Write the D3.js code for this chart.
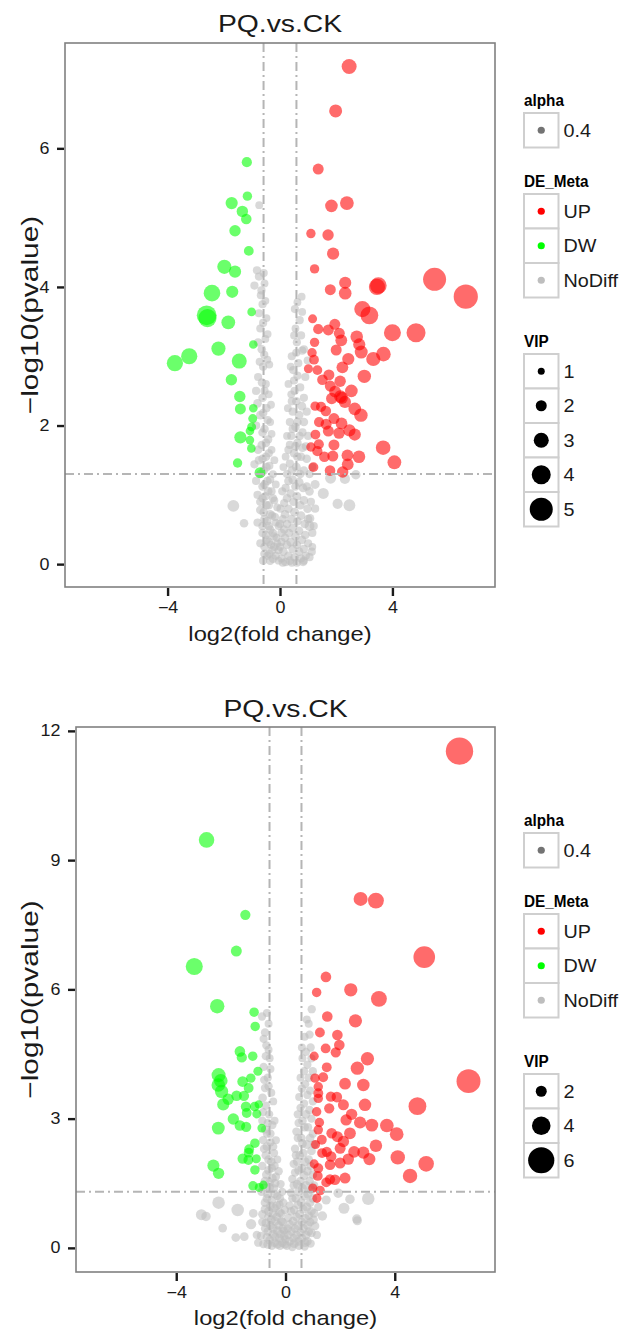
<!DOCTYPE html>
<html>
<head>
<meta charset="utf-8">
<script src="https://cdn.jsdelivr.net/npm/d3@7"></script>
<style>
  body { margin: 0; background: #fff; }
  svg { display: block; }
  text { font-family: "Liberation Sans", Arial, Helvetica, sans-serif; }
</style>
</head>
<body>
<div id="chart"></div>
<script>
// ---- data: [log2FC, -log10(p), VIP] ----
const topUp = [
  [2.46,7.18,3.0],[1.98,6.54,2.5],[1.36,5.70,2.0],[1.83,5.17,2.4],[2.38,5.21,2.7],[1.10,4.77,1.6],
  [1.71,4.75,2.1],[1.89,4.48,2.3],[1.23,4.26,1.6],[2.32,4.06,2.3],[1.79,3.96,2.0],[2.32,3.91,2.4],
  [3.50,4.02,3.4],[3.45,4.00,3.3],[5.50,4.11,5.0],[6.61,3.86,5.3],[2.93,3.68,3.3],[3.18,3.59,3.7],
  [4.00,3.34,3.5],[4.84,3.34,4.0],[1.16,3.54,1.5],[1.36,3.39,1.8],[1.72,3.38,2.0],[1.95,3.46,2.0],
  [2.11,3.33,2.0],[2.18,3.23,2.2],[2.73,3.28,2.4],[2.82,3.17,2.3],[2.89,3.06,2.5],[3.68,3.03,2.9],
  [3.32,2.96,2.8],[1.23,3.20,1.6],[2.00,3.09,2.0],[1.14,3.05,1.6],[2.43,2.96,2.3],[1.21,2.95,1.7],
  [2.22,2.84,2.2],[1.01,2.82,1.5],[1.33,2.80,1.7],[3.00,2.71,2.6],[1.51,2.66,1.9],[1.74,2.73,2.0],
  [2.14,2.64,2.1],[1.79,2.57,2.0],[2.54,2.50,2.4],[1.96,2.49,2.2],[2.15,2.42,2.4],[2.20,2.40,2.3],
  [1.84,2.39,2.1],[2.31,2.34,2.3],[1.25,2.28,1.6],[1.46,2.27,1.8],[2.66,2.24,2.4],[2.88,2.15,2.6],
  [1.63,2.21,1.9],[1.39,2.05,1.8],[1.64,2.02,2.0],[1.92,2.10,2.0],[2.19,2.03,2.2],[2.47,1.93,2.3],
  [2.66,1.87,2.3],[2.10,1.89,2.1],[1.72,1.92,2.0],[1.26,1.87,1.7],[1.10,1.69,1.6],[1.38,1.73,1.8],
  [1.33,1.63,1.8],[1.92,1.72,2.0],[1.58,1.55,1.9],[2.40,1.57,2.2],[2.81,1.55,2.4],[2.41,1.44,2.2],
  [1.88,1.56,2.0],[3.67,1.68,2.9],[4.07,1.47,2.7],[1.19,1.40,1.7],[1.78,1.35,1.9],[2.23,1.33,2.1]
];
const topDw = [
  [-1.18,5.80,1.8],[-1.16,5.31,1.6],[-1.72,5.21,2.3],[-1.34,5.09,2.1],[-1.20,4.98,1.9],[-1.60,4.81,2.1],
  [-1.11,4.52,1.7],[-1.98,4.29,2.8],[-1.60,4.22,2.3],[-2.42,3.91,3.4],[-1.70,3.93,2.3],[-2.61,3.59,4.2],
  [-2.58,3.55,3.8],[-1.84,3.49,2.7],[-1.01,3.64,1.4],[-0.95,3.17,1.4],[-2.19,3.11,2.8],[-3.23,3.00,3.3],
  [-3.74,2.90,3.3],[-1.45,2.93,3.0],[-1.73,2.66,2.1],[-1.43,2.42,2.1],[-1.41,2.24,2.0],[-0.95,2.25,1.4],
  [-0.97,2.10,1.5],[-1.01,1.98,1.5],[-1.07,1.92,1.4],[-1.41,1.83,2.3],[-1.07,1.79,1.4],[-1.02,1.67,1.4],
  [-1.51,1.46,1.6],[-0.71,1.32,2.0]
];
const topNo = [
  [-0.74,5.18,1.2],[-0.82,4.24,1.3],[-0.75,4.15,1.3],[-0.91,4.02,1.3],[-0.68,3.88,1.3],[-0.55,4.05,1.2],
  [-0.62,3.75,1.3],[-0.48,3.55,1.2],[-0.70,3.40,1.3],[-0.52,3.25,1.2],[-0.65,3.10,1.4],[-0.45,2.95,1.2],
  [-0.60,2.85,1.3],[-0.78,2.70,1.3],[-0.50,2.60,1.2],[-0.40,2.45,1.2],[-0.62,2.40,1.4],[-0.48,2.25,1.3],
  [-0.70,2.15,1.4],[-0.35,2.05,1.2],[-0.55,1.95,1.4],[-0.42,1.80,1.3],[-0.65,1.72,1.4],[-0.30,1.65,1.2],
  [-0.50,1.55,1.4],[-0.75,1.50,1.4],[-0.38,1.42,1.3],[-0.58,1.35,1.4],[-0.91,1.44,1.3],[-0.25,1.30,1.2],
  [-0.45,1.20,1.4],[-0.62,1.12,1.4],[-0.30,1.05,1.3],[-0.52,0.98,1.4],[-0.70,0.90,1.4],[-0.20,0.92,1.2],
  [-0.40,0.85,1.4],[-0.58,0.75,1.4],[-0.28,0.70,1.3],[-0.45,0.62,1.4],[-0.15,0.60,1.2],[-0.62,0.55,1.4],
  [-0.35,0.50,1.4],[-0.50,0.42,1.4],[-0.22,0.40,1.3],[-0.40,0.32,1.4],[-0.10,0.30,1.2],[-0.55,0.25,1.4],
  [-0.28,0.20,1.4],[-0.45,0.12,1.3],[-0.15,0.12,1.3],[-0.35,0.05,1.4],[-0.05,0.05,1.2],
  [-0.58,4.20,1.3],[-0.66,3.95,1.3],[-0.52,3.80,1.2],[-0.75,3.62,1.3],[-0.60,3.48,1.3],[-0.44,3.32,1.2],
  [-0.78,3.20,1.3],[-0.56,3.02,1.3],[-0.38,2.88,1.2],[-0.72,2.92,1.3],[-0.64,2.62,1.4],[-0.85,2.50,1.3],
  [-0.55,2.50,1.3],[-0.32,2.30,1.2],[-0.80,2.32,1.4],[-0.60,2.18,1.4],[-0.44,2.08,1.3],[-0.85,2.00,1.3],
  [-0.62,1.90,1.4],[-0.30,1.88,1.2],[-0.50,1.75,1.4],[-0.78,1.65,1.4],[-0.40,1.60,1.3],[-0.62,1.52,1.4],
  [-0.20,1.50,1.2],[-0.48,1.40,1.4],[-0.70,1.30,1.4],[-0.35,1.22,1.3],[-0.85,1.20,1.3],[-0.55,1.15,1.4],
  [-0.15,1.15,1.2],[-0.42,1.05,1.4],[-0.80,1.00,1.3],[-0.62,0.95,1.4],[-0.25,0.95,1.3],[-0.48,0.85,1.4],
  [-0.10,0.82,1.2],[-0.70,0.78,1.4],[-0.35,0.72,1.4],[-0.55,0.65,1.4],[-0.18,0.68,1.3],[-0.80,0.60,1.3],
  [-0.40,0.55,1.4],[-0.05,0.55,1.2],[-0.62,0.45,1.4],[-0.25,0.45,1.4],[-0.48,0.35,1.4],[-0.12,0.38,1.3],
  [-0.70,0.30,1.3],[-0.32,0.28,1.4],[-0.55,0.15,1.4],[-0.20,0.25,1.4],[-0.05,0.20,1.3],[-0.38,0.15,1.4],
  [-0.25,0.08,1.4],[-0.60,0.05,1.3],
  [0.77,3.86,1.2],[0.53,3.68,1.3],[0.79,3.64,1.2],[0.79,3.08,1.3],[0.47,2.80,1.3],[0.98,2.94,1.2],
  [0.55,3.40,1.2],[0.60,3.20,1.3],[0.42,3.00,1.3],[0.65,2.90,1.3],[0.50,2.65,1.3],[0.72,2.55,1.3],
  [0.40,2.45,1.2],[0.58,2.35,1.4],[0.85,2.40,1.3],[0.45,2.20,1.3],[0.68,2.15,1.4],[0.35,2.05,1.3],
  [0.55,1.98,1.4],[0.80,1.90,1.3],[0.40,1.85,1.3],[0.62,1.75,1.4],[0.92,1.70,1.3],[0.30,1.65,1.3],
  [0.50,1.60,1.4],[0.75,1.55,1.4],[0.35,1.45,1.3],[0.58,1.40,1.5],[0.85,1.35,1.4],[1.05,1.30,1.3],
  [0.25,1.30,1.3],[0.45,1.22,1.4],[0.68,1.18,1.5],[0.95,1.12,1.4],[0.20,1.10,1.3],[0.38,1.02,1.4],
  [0.60,0.98,1.5],[0.85,0.92,1.4],[1.10,0.90,1.3],[0.15,0.88,1.3],[0.30,0.80,1.4],[0.52,0.75,1.5],
  [0.75,0.70,1.4],[1.00,0.65,1.4],[0.10,0.65,1.3],[0.25,0.58,1.4],[0.45,0.52,1.5],[0.68,0.48,1.4],
  [0.90,0.42,1.4],[0.05,0.45,1.3],[0.18,0.38,1.4],[0.38,0.32,1.5],[0.60,0.28,1.4],[0.85,0.22,1.3],
  [0.00,0.25,1.3],[0.12,0.18,1.4],[0.30,0.12,1.4],[0.52,0.10,1.4],[0.75,0.08,1.3],[0.05,0.08,1.3],
  [0.20,0.03,1.4],[0.42,0.02,1.3],[1.15,0.25,1.2],[1.20,0.55,1.3],[1.07,0.66,1.4],[1.13,0.18,1.3],
  [0.82,0.03,1.3],
  [0.62,3.78,1.2],[0.70,3.52,1.3],[0.50,3.30,1.2],[0.75,3.30,1.3],[0.58,3.05,1.3],[0.85,3.10,1.3],
  [0.38,2.85,1.2],[0.62,2.72,1.3],[0.90,2.70,1.3],[0.30,2.60,1.2],[0.52,2.50,1.3],[0.78,2.28,1.4],
  [0.42,2.35,1.3],[0.95,2.20,1.3],[0.28,2.25,1.2],[0.62,2.05,1.4],[0.85,2.05,1.4],[0.45,1.95,1.3],
  [0.25,1.85,1.2],[0.70,1.85,1.4],[1.00,1.85,1.3],[0.55,1.70,1.4],[0.35,1.72,1.3],[0.80,1.68,1.4],
  [0.20,1.55,1.2],[0.62,1.55,1.4],[0.95,1.52,1.4],[0.42,1.35,1.4],[0.72,1.30,1.4],[1.15,1.40,1.3],
  [0.12,1.40,1.2],[0.30,1.20,1.4],[0.55,1.12,1.4],[0.82,1.10,1.4],[1.05,1.05,1.4],[0.08,1.05,1.3],
  [0.25,0.95,1.4],[0.48,0.90,1.4],[0.72,0.85,1.4],[0.98,0.80,1.4],[1.25,0.80,1.3],[0.02,0.80,1.3],
  [0.18,0.72,1.4],[0.40,0.65,1.4],[0.62,0.62,1.4],[0.88,0.58,1.4],[1.15,0.45,1.3],[0.00,0.58,1.3],
  [0.15,0.50,1.4],[0.32,0.45,1.4],[0.55,0.40,1.4],[0.78,0.35,1.4],[1.00,0.30,1.3],[0.05,0.32,1.3],
  [0.25,0.28,1.4],[0.45,0.22,1.4],[0.68,0.18,1.4],[0.92,0.12,1.3],[0.10,0.02,1.3],[0.35,0.05,1.4],
  [0.60,0.02,1.3],[0.85,0.05,1.3],[1.05,0.10,1.3],
  [1.80,1.24,2.0],[2.31,1.23,1.8],[2.70,1.29,1.6],[1.54,1.02,2.0],[2.05,0.87,1.8],[2.47,0.85,2.2],
  [-1.66,0.84,2.2],[-1.28,0.59,1.4],[1.25,1.15,1.5],[1.05,0.55,1.7]
];

const botUp = [
  [6.37,11.53,6.3],[2.75,8.10,2.8],[3.31,8.06,3.3],[5.08,6.75,4.8],[1.48,6.29,1.9],[1.14,5.93,1.6],
  [2.39,5.99,2.6],[3.42,5.78,3.3],[1.53,5.37,1.9],[2.56,5.27,2.6],[1.26,5.00,1.7],[1.90,4.94,1.9],
  [1.97,4.71,1.9],[1.47,4.63,1.7],[1.84,4.54,1.8],[1.05,4.45,1.5],[3.00,4.39,2.6],[2.63,4.17,2.6],
  [1.51,4.19,1.7],[6.70,3.87,5.4],[1.38,3.96,1.7],[1.08,3.94,1.6],[2.18,3.81,2.2],[2.85,3.78,2.4],
  [1.20,3.74,1.6],[1.20,3.59,1.7],[1.66,3.51,1.8],[1.88,3.50,1.9],[1.20,3.47,1.6],[2.12,3.32,2.0],
  [2.91,3.32,2.4],[1.60,3.24,1.8],[4.83,3.29,3.8],[1.14,3.16,1.6],[2.42,3.10,2.1],[2.22,2.97,2.1],
  [2.73,2.91,2.3],[3.16,2.85,2.5],[3.71,2.84,2.7],[4.07,2.64,2.7],[1.24,2.91,1.6],[1.20,2.74,1.6],
  [2.36,2.66,2.2],[1.69,2.66,1.9],[1.90,2.58,2.0],[1.33,2.51,1.7],[2.12,2.47,2.1],[3.31,2.37,2.4],
  [1.51,2.23,1.8],[2.51,2.23,2.2],[2.00,2.31,2.0],[2.85,2.21,2.3],[1.34,2.20,1.7],[1.67,2.12,1.9],
  [2.30,2.06,2.1],[3.07,2.06,2.3],[4.11,2.10,2.9],[5.15,1.95,3.2],[4.56,1.67,2.9],[2.00,1.97,2.0],
  [1.63,1.93,1.9],[1.20,1.85,1.7],[2.18,1.62,2.0],[1.63,1.59,1.8],[1.81,1.58,1.9],[1.18,1.67,1.7],
  [1.00,1.39,1.5],[1.27,1.33,1.6],[1.49,1.52,1.7],[1.10,2.40,1.5],[1.05,1.95,1.5],[1.15,1.15,1.5]
];
const botDw = [
  [-2.89,9.47,3.2],[-1.47,7.73,1.8],[-1.80,6.89,2.0],[-3.34,6.53,3.6],[-2.50,5.61,2.9],[-1.15,5.47,1.6],
  [-1.11,5.14,1.6],[-1.67,4.56,1.9],[-1.60,4.42,1.8],[-1.20,4.45,1.6],[-1.01,4.10,1.5],[-2.45,4.01,2.8],
  [-2.37,3.88,2.7],[-2.46,3.78,2.7],[-2.34,3.63,2.6],[-1.57,3.86,1.9],[-1.27,3.94,1.6],[-1.35,3.71,1.7],
  [-1.79,3.53,1.9],[-1.52,3.53,1.8],[-2.10,3.45,2.1],[-2.28,3.33,2.3],[-1.45,3.28,1.8],[-1.13,3.28,1.6],
  [-0.98,3.33,1.3],[-1.42,3.13,1.7],[-1.05,3.11,1.5],[-1.91,2.99,2.1],[-2.46,2.78,2.5],[-1.67,2.84,1.9],
  [-1.44,2.81,1.8],[-0.87,2.78,1.4],[-1.12,2.43,1.6],[-1.33,2.29,1.7],[-1.35,2.21,1.7],[-1.57,2.07,1.8],
  [-1.36,2.04,1.7],[-1.07,2.07,1.5],[-2.64,1.91,2.3],[-2.45,1.73,2.1],[-1.12,1.81,1.6],[-1.19,1.44,1.6],
  [-0.96,1.40,1.5],[-0.81,1.46,1.4]
];
const botNo = [
  [-0.86,5.37,1.3],[-0.75,5.00,1.3],[-0.75,3.71,1.3],[-0.84,3.48,1.4],[-0.62,5.20,1.2],[-0.70,4.70,1.3],
  [-0.58,4.40,1.2],[-0.80,4.20,1.3],[-0.65,3.95,1.3],[-0.52,3.60,1.2],[-0.72,3.30,1.3],[-0.60,3.10,1.3],
  [-0.85,2.95,1.3],[-0.48,2.85,1.3],[-0.68,2.65,1.3],[-0.55,2.45,1.3],[-0.78,2.30,1.4],[-0.42,2.20,1.3],
  [-0.62,2.05,1.4],[-0.85,1.90,1.3],[-0.50,1.85,1.3],[-0.70,1.70,1.4],[-0.35,1.65,1.3],[-0.58,1.52,1.4],
  [-0.80,1.40,1.3],[-0.42,1.38,1.3],[-0.65,1.25,1.5],[-0.30,1.20,1.3],[-0.50,1.10,1.4],[-0.75,1.05,1.4],
  [-0.22,1.00,1.3],[-0.40,0.92,1.4],[-0.62,0.85,1.5],[-0.85,0.78,1.3],[-0.15,0.80,1.3],[-0.32,0.72,1.4],
  [-0.52,0.65,1.5],[-0.72,0.58,1.4],[-0.10,0.60,1.3],[-0.25,0.52,1.4],[-0.45,0.45,1.5],[-0.65,0.38,1.4],
  [-0.05,0.40,1.3],[-0.18,0.32,1.4],[-0.38,0.25,1.5],[-0.58,0.18,1.4],[0.00,0.20,1.3],[-0.12,0.12,1.4],
  [-0.30,0.08,1.4],[-0.50,0.05,1.3],[-1.00,0.12,1.3],[-0.81,0.09,1.3],[-1.05,0.30,1.3],
  [-0.68,5.45,1.2],[-0.80,4.85,1.3],[-0.62,4.60,1.2],[-0.72,4.45,1.3],[-0.55,4.15,1.2],[-0.78,3.90,1.3],
  [-0.62,3.75,1.3],[-0.45,3.40,1.2],[-0.82,3.15,1.3],[-0.65,2.90,1.3],[-0.40,2.95,1.2],[-0.75,2.75,1.3],
  [-0.55,2.65,1.3],[-0.35,2.50,1.2],[-0.82,2.50,1.3],[-0.68,2.35,1.4],[-0.45,2.35,1.3],[-0.30,2.05,1.2],
  [-0.72,2.15,1.4],[-0.52,2.00,1.4],[-0.40,1.90,1.3],[-0.62,1.80,1.4],[-0.25,1.78,1.3],[-0.48,1.62,1.4],
  [-0.75,1.55,1.4],[-0.18,1.48,1.3],[-0.38,1.50,1.4],[-0.58,1.40,1.4],[-0.88,1.30,1.3],[-0.12,1.30,1.3],
  [-0.40,1.25,1.4],[-0.68,1.15,1.4],[-0.20,1.15,1.3],[-0.55,0.98,1.4],[-0.08,1.05,1.3],[-0.32,0.98,1.4],
  [-0.75,0.90,1.4],[-0.45,0.80,1.4],[-0.02,0.88,1.3],[-0.22,0.82,1.4],[-0.62,0.72,1.4],[-0.38,0.62,1.4],
  [-0.85,0.60,1.3],[-0.15,0.62,1.4],[-0.55,0.52,1.4],[-0.30,0.40,1.4],[-0.75,0.45,1.3],[-0.10,0.45,1.4],
  [-0.45,0.32,1.4],[-0.68,0.25,1.4],[-0.22,0.22,1.4],[-0.05,0.28,1.4],[-0.40,0.12,1.4],[-0.90,0.28,1.3],
  [-0.65,0.08,1.4],[-0.20,0.05,1.4],[-0.02,0.08,1.3],
  [0.96,5.54,1.3],[0.85,5.20,1.2],[0.70,4.90,1.2],[0.92,4.65,1.3],[0.62,4.40,1.2],[0.80,4.25,1.3],
  [1.00,4.10,1.3],[0.55,3.95,1.2],[0.72,3.80,1.3],[0.90,3.65,1.3],[0.50,3.50,1.2],[0.68,3.35,1.3],
  [0.88,3.20,1.4],[0.45,3.10,1.3],[0.62,2.95,1.4],[0.82,2.80,1.4],[1.00,2.65,1.3],[0.40,2.70,1.3],
  [0.58,2.55,1.4],[0.78,2.40,1.5],[0.95,2.25,1.4],[0.35,2.30,1.3],[0.52,2.15,1.4],[0.72,2.00,1.5],
  [0.92,1.90,1.4],[0.30,1.95,1.3],[0.48,1.80,1.4],[0.68,1.68,1.5],[0.88,1.55,1.4],[1.05,1.45,1.3],
  [0.25,1.60,1.3],[0.42,1.48,1.4],[0.62,1.38,1.5],[0.82,1.25,1.5],[1.00,1.15,1.4],[0.20,1.28,1.3],
  [0.38,1.15,1.4],[0.58,1.05,1.5],[0.78,0.95,1.5],[0.95,0.85,1.4],[0.15,0.98,1.3],[0.32,0.88,1.4],
  [0.52,0.78,1.5],[0.72,0.68,1.5],[0.90,0.60,1.4],[0.10,0.70,1.3],[0.28,0.62,1.4],[0.45,0.52,1.5],
  [0.65,0.45,1.5],[0.85,0.38,1.4],[0.08,0.45,1.3],[0.22,0.38,1.4],[0.40,0.30,1.5],[0.60,0.22,1.5],
  [0.80,0.15,1.4],[0.15,0.15,1.4],[0.32,0.10,1.5],[0.50,0.05,1.4],[0.70,0.03,1.3],[1.08,0.51,1.4],
  [0.75,0.30,1.5],
  [0.78,5.30,1.2],[0.88,4.95,1.3],[0.60,4.65,1.2],[0.75,4.55,1.3],[0.95,4.40,1.3],[0.68,4.10,1.3],
  [0.85,3.95,1.3],[0.60,3.70,1.3],[0.80,3.55,1.3],[1.00,3.40,1.3],[0.55,3.25,1.3],[0.75,3.10,1.4],
  [0.95,3.00,1.3],[0.48,2.90,1.3],[0.70,2.80,1.4],[0.90,2.55,1.4],[0.45,2.55,1.3],[0.62,2.42,1.4],
  [1.05,2.40,1.3],[0.38,2.15,1.3],[0.65,2.20,1.4],[0.85,2.05,1.4],[0.42,2.00,1.3],[0.60,1.85,1.4],
  [0.80,1.78,1.4],[0.35,1.75,1.3],[1.00,1.70,1.4],[0.55,1.55,1.4],[0.75,1.45,1.4],[0.30,1.45,1.3],
  [0.95,1.35,1.4],[0.48,1.30,1.4],[0.70,1.20,1.4],[0.25,1.15,1.3],[0.90,1.05,1.4],[0.45,1.00,1.4],
  [0.65,0.90,1.4],[0.20,0.85,1.3],[0.85,0.75,1.4],[1.05,0.80,1.4],[0.40,0.72,1.4],[0.60,0.60,1.4],
  [0.15,0.55,1.3],[0.80,0.52,1.4],[0.35,0.45,1.4],[0.55,0.35,1.4],[0.95,0.35,1.4],[0.10,0.30,1.3],
  [0.30,0.22,1.4],[0.72,0.12,1.4],[0.48,0.15,1.4],[0.05,0.05,1.3],[0.25,0.02,1.3],[0.92,0.10,1.3],
  [1.15,0.30,1.3],[1.20,0.95,1.3],
  [-2.45,1.05,2.4],[-3.08,0.77,2.0],[-2.91,0.73,1.6],[-1.75,0.88,2.4],[-2.30,0.46,1.4],[-1.82,0.24,1.4],
  [-1.26,0.55,1.8],[-1.18,0.80,1.4],[-1.51,0.26,1.4],[3.03,1.14,2.4],[2.61,0.67,1.6],[2.36,1.13,1.6],
  [2.14,0.92,2.0],[1.93,1.27,1.6],[1.49,1.11,1.5],[1.02,0.65,1.5],[1.35,0.74,1.6],[2.63,0.63,1.5]
];

const xTicks = [-4, 0, 4];
const topYTicks = [0, 2, 4, 6];
const botYTicks = [0, 3, 6, 9, 12];
const topVipKeys = [1, 2, 3, 4, 5];
const botVipKeys = [2, 4, 6];
const groups = ["UP", "DW", "NoDiff"];
const groupColors = ["#FF0000", "#00FF00", "#BEBEBE"];
const alphaKeys = ["0.4"];
const fcCut = 0.585, pCut = 1.301;

const W = 621, H = 1331;
const svg = d3.select("#chart").append("svg").attr("width", W).attr("height", H);

// text in the reference is drawn a bit wide, so text gets a horizontal scale
function wideText(parent, x, y, str, opts) {
  const g = parent.append("g")
    .attr("transform", `translate(${x},${y}) rotate(${opts.rotate || 0}) scale(${opts.sx || 1},1)`);
  return g.append("text")
    .attr("text-anchor", opts.anchor || "start")
    .attr("font-size", opts.size)
    .attr("font-weight", opts.bold ? "bold" : null)
    .attr("fill", opts.fill || "#000")
    .text(str);
}

function drawPanel(cfg) {
  const g = svg.append("g");
  const x = d3.scaleLinear().domain(cfg.xDomain).range([cfg.left, cfg.right]);
  const y = d3.scaleLinear().domain(cfg.yDomain).range([cfg.bottom, cfg.top]);
  const r = d3.scaleLinear().domain([0, cfg.vipMax]).range(cfg.rRange);

  const clipId = "clip" + cfg.id;
  svg.append("clipPath").attr("id", clipId).append("rect")
    .attr("x", cfg.left).attr("y", cfg.top)
    .attr("width", cfg.right - cfg.left).attr("height", cfg.bottom - cfg.top);

  const plot = g.append("g").attr("clip-path", `url(#${clipId})`);
  const series = [
    { data: cfg.no, color: groupColors[2] },
    { data: cfg.dw, color: groupColors[1] },
    { data: cfg.up, color: groupColors[0] }
  ];
  series.forEach(s => {
    plot.append("g").selectAll("circle").data(s.data).join("circle")
      .attr("cx", d => x(d[0]))
      .attr("cy", d => y(d[1]))
      .attr("r", d => r(d[2]))
      .attr("fill", s.color)
      .attr("fill-opacity", 0.58);
  });

  const dash = "9,4,2,4";
  [-fcCut, fcCut].forEach(v => {
    plot.append("line")
      .attr("x1", x(v)).attr("x2", x(v)).attr("y1", cfg.top).attr("y2", cfg.bottom)
      .attr("stroke", "#B5B5B5").attr("stroke-width", 2).attr("stroke-dasharray", dash);
  });
  plot.append("line")
    .attr("x1", cfg.left).attr("x2", cfg.right).attr("y1", y(pCut)).attr("y2", y(pCut))
    .attr("stroke", "#B5B5B5").attr("stroke-width", 2).attr("stroke-dasharray", dash);

  g.append("rect")
    .attr("x", cfg.left).attr("y", cfg.top)
    .attr("width", cfg.right - cfg.left).attr("height", cfg.bottom - cfg.top)
    .attr("fill", "none").attr("stroke", "#808080").attr("stroke-width", 1.6);

  const fmt = v => (v < 0 ? "\u2212" + Math.abs(v) : String(v));
  const yAxis = g.append("g").attr("transform", `translate(${cfg.left - 1},0)`)
    .call(d3.axisLeft(y).tickValues(cfg.yTicks).tickSize(7).tickPadding(6).tickFormat(fmt));
  const xAxis = g.append("g").attr("transform", `translate(0,${cfg.bottom + 1})`)
    .call(d3.axisBottom(x).tickValues(xTicks).tickSize(8).tickPadding(6).tickFormat(fmt));
  [yAxis, xAxis].forEach(a => {
    a.select(".domain").remove();
    a.selectAll(".tick line").attr("stroke", "#1a1a1a").attr("stroke-width", 2.4);
    a.selectAll(".tick text").attr("font-size", 16).attr("fill", "#1a1a1a")
      .attr("font-family", "Liberation Sans, Arial, sans-serif")
      .attr("transform", "scale(1.12,1)");
  });

  const cx = (cfg.left + cfg.right) / 2;
  wideText(g, cx, cfg.titleY, cfg.title, { size: 24, anchor: "middle", sx: 1.18, fill: "#1a1a1a" });
  wideText(g, cx, cfg.xLabelY, "log2(fold change)", { size: 21, anchor: "middle", sx: 1.13, fill: "#1a1a1a" });
  wideText(g, cfg.yLabelX, (cfg.top + cfg.bottom) / 2, "\u2212log10(pvalue)",
    { size: 23, anchor: "middle", sx: 1.3, rotate: -90, fill: "#1a1a1a" });

  // legends
  const lx = 524, box = 34.5;
  const lg = g.append("g");
  function keyBox(yy) {
    lg.append("rect").attr("x", lx).attr("y", yy).attr("width", box).attr("height", box)
      .attr("fill", "#fff").attr("stroke", "#CFCFCF").attr("stroke-width", 2);
  }
  function title(yy, t) { wideText(lg, lx, yy, t, { size: 17, bold: true, sx: 0.9 }); }
  function label(yy, t) { wideText(lg, lx + box + 5, yy, t, { size: 18, sx: 1.1, fill: "#1a1a1a" }); }

  let ty = cfg.legendY[0];
  title(ty, "alpha");
  alphaKeys.forEach((k, i) => {
    const yy = ty + 7 + i * box;
    keyBox(yy);
    lg.append("circle").attr("cx", lx + box / 2).attr("cy", yy + box / 2).attr("r", 3.6)
      .attr("fill", "#000").attr("fill-opacity", 0.55);
    label(yy + box / 2 + 6.5, k);
  });

  ty = cfg.legendY[1];
  title(ty, "DE_Meta");
  groups.forEach((k, i) => {
    const yy = ty + 7 + i * box;
    keyBox(yy);
    lg.append("circle").attr("cx", lx + box / 2).attr("cy", yy + box / 2).attr("r", 3.6)
      .attr("fill", groupColors[i]);
    label(yy + box / 2 + 6.5, k);
  });

  ty = cfg.legendY[2];
  title(ty, "VIP");
  cfg.vipKeys.forEach((k, i) => {
    const yy = ty + 7 + i * box;
    keyBox(yy);
    lg.append("circle").attr("cx", lx + box / 2).attr("cy", yy + box / 2).attr("r", r(k))
      .attr("fill", "#000");
    label(yy + box / 2 + 6.5, String(k));
  });
}

drawPanel({
  id: "top", left: 65, right: 495, top: 43, bottom: 587,
  xDomain: [-7.65, 7.65], yDomain: [-0.33, 7.52], yTicks: topYTicks,
  up: topUp, dw: topDw, no: topNo,
  vipMax: 5, rRange: [1.5, 11.5], vipKeys: topVipKeys,
  title: "PQ.vs.CK", titleY: 32, xLabelY: 641, yLabelX: 38,
  legendY: [106, 187, 347]
});

drawPanel({
  id: "bot", left: 76, right: 495, top: 727, bottom: 1272,
  xDomain: [-7.67, 7.67], yDomain: [-0.56, 12.09], yTicks: botYTicks,
  up: botUp, dw: botDw, no: botNo,
  vipMax: 6, rRange: [1.7, 13.1], vipKeys: botVipKeys,
  title: "PQ.vs.CK", titleY: 717, xLabelY: 1325, yLabelX: 38,
  legendY: [826, 907, 1067]
});
</script>
</body>
</html>
